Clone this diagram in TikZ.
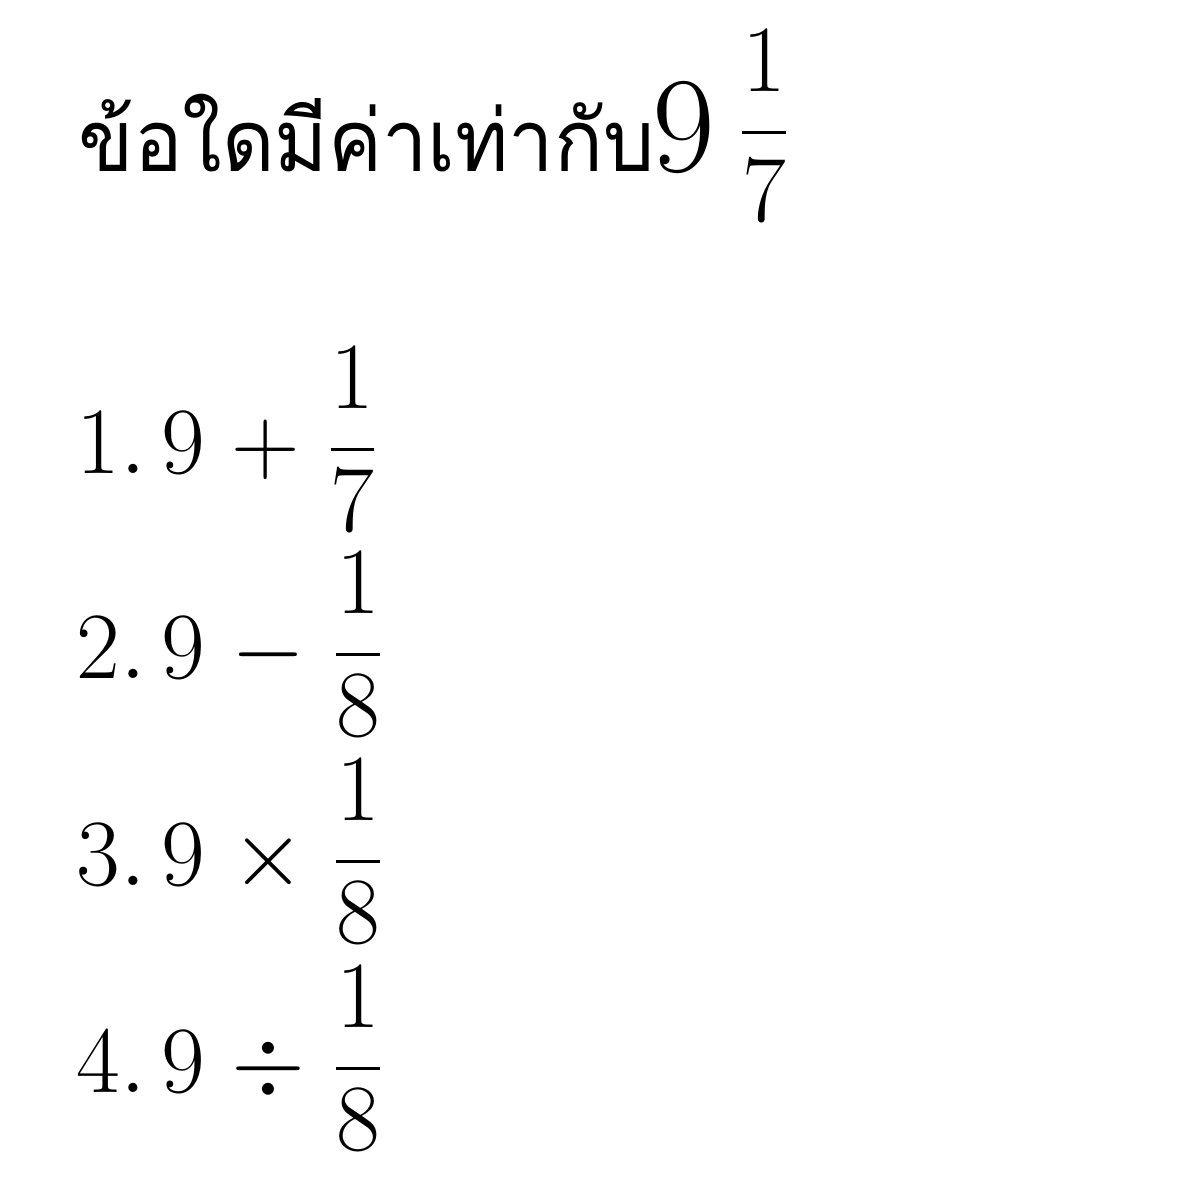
\RequirePackage{fix-cm}
\documentclass[tikz,border=0pt]{standalone}
\usepackage{amsmath}
\usepackage{fontspec}
\newfontfamily\thaifont[Script=Thai]{Loma}
\medmuskip=5mu plus 2mu minus 4mu
% fraction with its denominator pulled up a little
\newcommand\frc[2]{\dfrac{#1}{\raisebox{2pt}[0pt][0pt]{$#2$}}}
\begin{document}
\begin{tikzpicture}[x=0.01cm,y=-0.01cm,
	choice/.style={anchor=base west,inner sep=0pt,font=\fontsize{27}{32}\selectfont},
	question/.style={anchor=base west,inner sep=0pt,font=\fontsize{24.5}{30}\selectfont\thaifont}]
		\useasboundingbox (0,0) rectangle (1179,1179);
		\node [question] (q) at (78,172) {\scalebox{0.94}[1]{ข้อใดมีค่าเท่ากับ}};
		\node [anchor=base west,inner sep=0pt] (mixed) at (652,172) {\fontsize{38.8}{44}\selectfont$9$\,\raisebox{4.5pt}{\fontsize{27}{32}\selectfont$\dfrac{1}{7}$}};
		\node [choice] (c1) at (76,473) {$1.\,9+\frc{1}{7}$};
		\node [choice] (c2) at (76,678) {$2.\,9-\frc{1}{8}$};
		\node [choice] (c3) at (76,885) {$3.\,9\times\frc{1}{8}$};
		\node [choice] (c4) at (76,1092) {$4.\,9\div\frc{1}{8}$};
	\end{tikzpicture}
\end{document}
